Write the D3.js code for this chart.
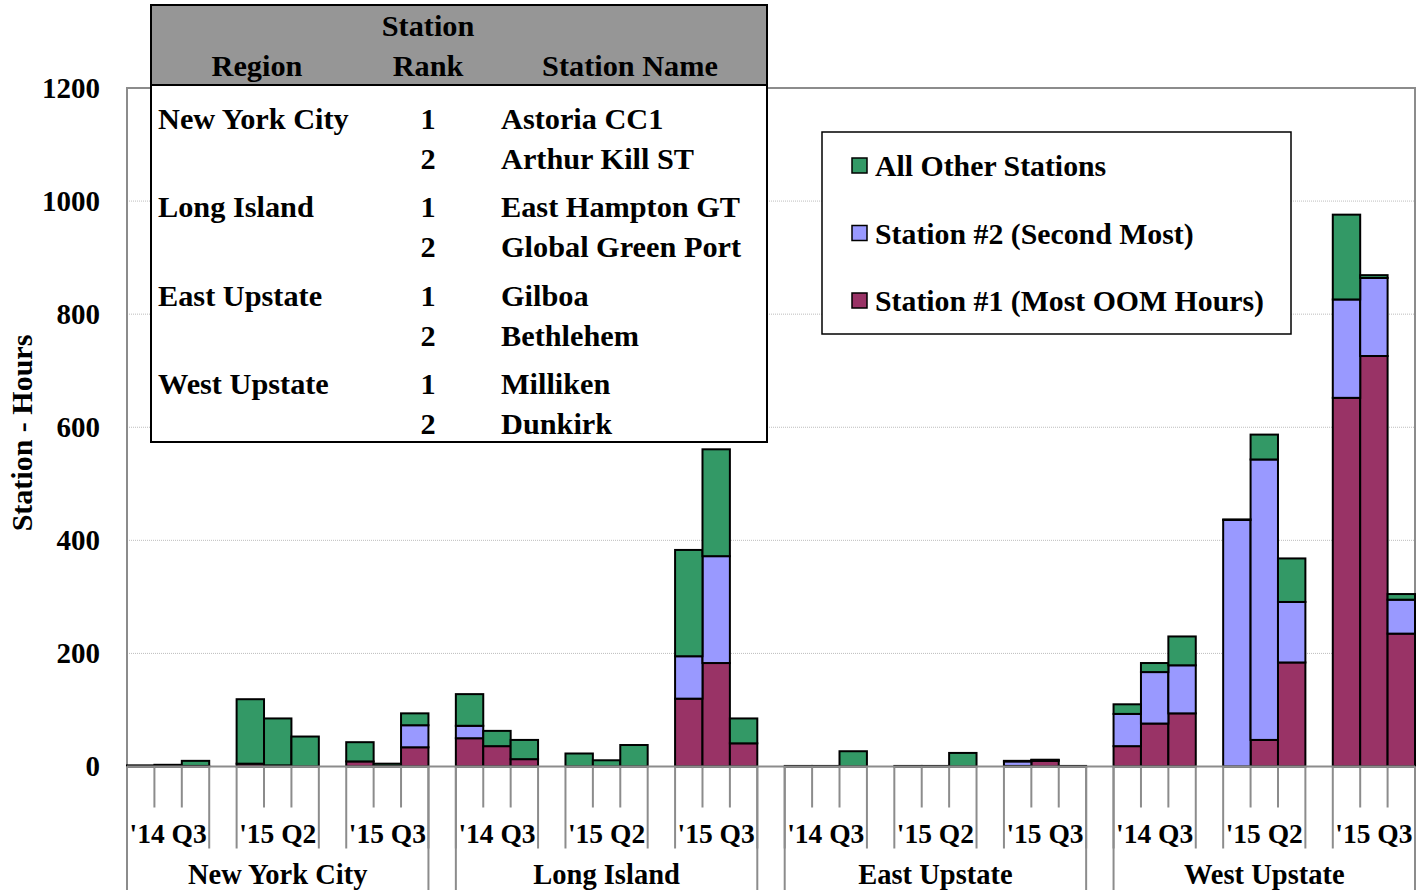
<!DOCTYPE html>
<html lang="en">
<head>
    <meta charset="UTF-8">
    <title>Station OOM Hours</title>
    <script src="https://cdn.jsdelivr.net/npm/d3@7"></script>
    <style>
        body { margin: 0; background: #fff; }
        text { font-family: 'Liberation Serif', 'Times New Roman', serif; font-weight: bold; }
    </style>
</head>
<body>
<script>
    const [width, height] = [1425, 890]
    const margin = {left: 127, right: 10, top: 88, bottom: 123.5}

    const regions = ['New York City', 'Long Island', 'East Upstate', 'West Upstate']
    const quarters = ["'14 Q3", "'15 Q2", "'15 Q3"]
    const months = [0, 1, 2]
    const yTicks = [0, 200, 400, 600, 800, 1000, 1200]

    // values per bar, ordered region -> quarter -> month
    const station1 = [
        0, 0, 1,    5, 2, 0,      9, 1, 34,
        50, 36, 13, 0, 0, 0,      120, 183, 41,
        0, 0, 0,    0, 0, 0,      1, 10, 0,
        36, 76, 94, 0, 47, 184,   652, 726, 235
    ]
    const station2 = [
        0, 0, 0,    0, 0, 0,      0, 0, 39,
        22, 0, 0,   0, 0, 0,      75, 189, 0,
        0, 0, 0,    0, 0, 0,      8, 1, 0,
        57, 91, 85, 436, 496, 107, 174, 138, 60
    ]
    const allOther = [
        2, 3, 9,    114, 83, 53,  34, 4, 21,
        56, 27, 34, 23, 11, 38,   188, 189, 44,
        1, 1, 27,   1, 1, 24,     1, 1, 1,
        17, 16, 51, 1, 44, 77,    150, 5, 10
    ]

    const seriesNames = ['Station #1 (Most OOM Hours)', 'Station #2 (Second Most)', 'All Other Stations']
    const colors = ['#993366', '#9999ff', '#339966']

    const tableHeader = ['Region', 'Rank', 'Station Name']
    const tableRegions = ['New York City', '', 'Long Island', '', 'East Upstate', '', 'West Upstate', '']
    const tableRanks = ['1', '2', '1', '2', '1', '2', '1', '2']
    const tableStations = ['Astoria CC1', 'Arthur Kill ST', 'East Hampton GT', 'Global Green Port',
        'Gilboa', 'Bethlehem', 'Milliken', 'Dunkirk']

    // slot keys: 3 bars per quarter, a blank slot between quarters and between regions
    const slots = []
    regions.forEach((r, ri) => {
        quarters.forEach((q, qi) => {
            months.forEach(m => slots.push(`${ri}-${qi}-${m}`))
            if (qi < quarters.length - 1) slots.push(`gap-${ri}-${qi}`)
        })
        if (ri < regions.length - 1) slots.push(`gap-${ri}`)
    })

    const rows = []
    regions.forEach((r, ri) => quarters.forEach((q, qi) => months.forEach(m => {
        const i = ri * 9 + qi * 3 + m
        rows.push({key: `${ri}-${qi}-${m}`, s1: station1[i], s2: station2[i], other: allOther[i]})
    })))

    const svg = d3.select('body').append('svg')
        .attr('width', width)
        .attr('height', height)

    const x = d3.scaleBand().domain(slots).range([margin.left, width - margin.right]).padding(0)
    const y = d3.scaleLinear().domain([0, 1200]).range([height - margin.bottom, margin.top])
    const x0 = margin.left, x1 = width - margin.right, yBase = y(0)

    const renderGrid = () => {
        svg.append('g').selectAll('line').data(yTicks.filter(d => d > 0 && d < 1200)).join('line')
            .attr('x1', x0).attr('x2', x1)
            .attr('y1', d => y(d)).attr('y2', d => y(d))
            .attr('stroke', '#bdbdbd').attr('stroke-dasharray', '1,1')
        // plot frame
        svg.append('path')
            .attr('d', `M${x0},${yBase}V${y(1200)}H${x1}V${yBase}`)
            .attr('fill', 'none').attr('stroke', '#8c8c8c').attr('stroke-width', 2)
    }

    const renderYAxis = () => {
        const yAxis = d3.axisLeft(y).tickValues(yTicks).tickFormat(d3.format('d')).tickSize(0).tickPadding(27)
        const g = svg.append('g').attr('transform', `translate(${x0},0)`).call(yAxis)
        g.select('.domain').remove()
        g.selectAll('text').style('font-size', '29px').attr('fill', '#000')
            .style('font-family', "'Liberation Serif', serif").style('font-weight', 'bold')
        svg.append('text')
            .attr('transform', `translate(32, ${433}) rotate(-90)`)
            .attr('text-anchor', 'middle')
            .style('font-size', '30px')
            .text('Station - Hours')
    }

    const renderBars = () => {
        const stack = d3.stack().keys(['s1', 's2', 'other'])(rows)
        svg.append('g').selectAll('g').data(stack).join('g')
            .attr('fill', (d, i) => colors[i])
            .selectAll('rect').data(d => d).join('rect')
                .attr('x', d => x(d.data.key))
                .attr('width', x.bandwidth())
                .attr('y', d => y(d[1]))
                .attr('height', d => y(d[0]) - y(d[1]))
                .attr('stroke', '#000')
                .attr('stroke-width', 2)
    }

    const renderXAxis = () => {
        const g = svg.append('g').attr('stroke', '#8c8c8c').attr('stroke-width', 2)
        g.append('line').attr('x1', x0).attr('x2', x1).attr('y1', yBase).attr('y2', yBase)
        regions.forEach((r, ri) => {
            const rStart = x(`${ri}-0-0`)
            const rEnd = x(`${ri}-2-2`) + x.bandwidth()
            quarters.forEach((q, qi) => {
                const qStart = x(`${ri}-${qi}-0`)
                const qEnd = x(`${ri}-${qi}-2`) + x.bandwidth()
                ;[1, 2].forEach(m => {
                    const xm = x(`${ri}-${qi}-${m}`)
                    g.append('line').attr('x1', xm).attr('x2', xm).attr('y1', yBase).attr('y2', yBase + 41)
                })
                ;[qStart, qEnd].forEach(xq => {
                    g.append('line').attr('x1', xq).attr('x2', xq).attr('y1', yBase).attr('y2', yBase + 82)
                })
                svg.append('text')
                    .attr('x', (qStart + qEnd) / 2).attr('y', yBase + 76)
                    .attr('text-anchor', 'middle').style('font-size', '27.5px')
                    .text(q)
            })
            ;[rStart, rEnd].forEach(xr => {
                g.append('line').attr('x1', xr).attr('x2', xr).attr('y1', yBase).attr('y2', height)
            })
            svg.append('text')
                .attr('x', (rStart + rEnd) / 2).attr('y', yBase + 117)
                .attr('text-anchor', 'middle').style('font-size', '28.5px')
                .text(r)
        })
    }

    const renderLegend = () => {
        const g = svg.append('g')
        g.append('rect').attr('x', 822).attr('y', 132).attr('width', 469).attr('height', 202)
            .attr('fill', '#fff').attr('stroke', '#000').attr('stroke-width', 1.5)
        const order = [2, 1, 0]
        order.forEach((si, i) => {
            const cy = 166 + i * 67.5
            g.append('rect').attr('x', 852).attr('y', cy - 8).attr('width', 15).attr('height', 15)
                .attr('fill', colors[si]).attr('stroke', '#000').attr('stroke-width', 1.5)
            g.append('text').attr('x', 875).attr('y', cy + 10)
                .style('font-size', '29.8px').text(seriesNames[si])
        })
    }

    const renderTable = () => {
        const g = svg.append('g')
        const [tx, ty, tw, th, hh] = [151, 5, 616, 437, 80]
        g.append('rect').attr('x', tx).attr('y', ty).attr('width', tw).attr('height', th).attr('fill', '#fff')
        g.append('rect').attr('x', tx).attr('y', ty).attr('width', tw).attr('height', hh).attr('fill', '#969696')
        g.append('line').attr('x1', tx).attr('x2', tx + tw).attr('y1', ty + hh).attr('y2', ty + hh)
            .attr('stroke', '#000').attr('stroke-width', 2)
        g.append('rect').attr('x', tx).attr('y', ty).attr('width', tw).attr('height', th)
            .attr('fill', 'none').attr('stroke', '#000').attr('stroke-width', 2)
        const fs = '30.3px'
        g.append('text').attr('x', 428).attr('y', 36).attr('text-anchor', 'middle').style('font-size', fs).text('Station')
        const headX = [257, 428, 630]
        tableHeader.forEach((h, i) => {
            g.append('text').attr('x', headX[i]).attr('y', 76).attr('text-anchor', 'middle').style('font-size', fs).text(h)
        })
        const rowY = [129, 169, 217, 257, 306, 346, 394, 434]
        rowY.forEach((ry, i) => {
            g.append('text').attr('x', 158).attr('y', ry).style('font-size', fs).text(tableRegions[i])
            g.append('text').attr('x', 428).attr('y', ry).attr('text-anchor', 'middle').style('font-size', fs).text(tableRanks[i])
            g.append('text').attr('x', 501).attr('y', ry).style('font-size', fs).text(tableStations[i])
        })
    }

    renderGrid()
    renderBars()
    renderXAxis()
    renderYAxis()
    renderLegend()
    renderTable()
</script>
</body>
</html>
